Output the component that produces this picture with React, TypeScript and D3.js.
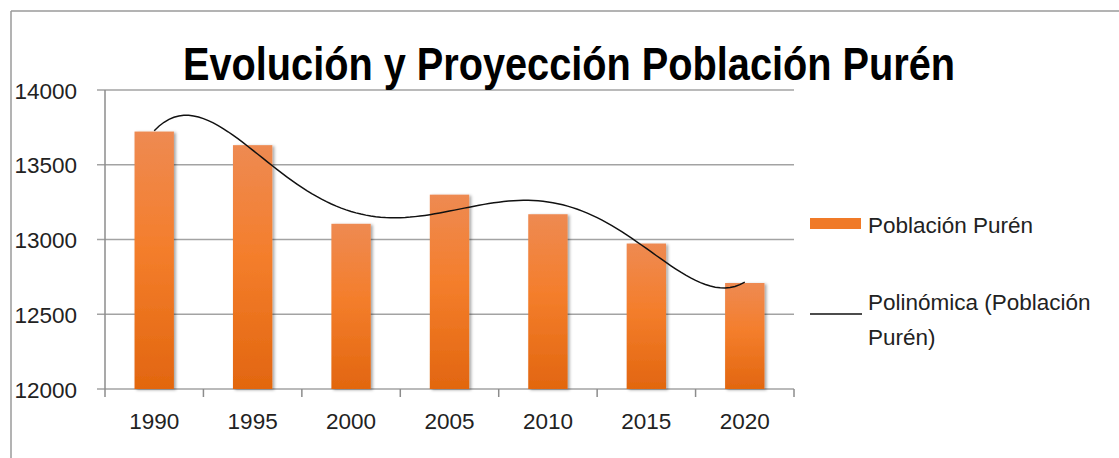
import React, { useMemo } from "react";
import * as d3 from "d3";

const categories = ["1990", "1995", "2000", "2005", "2010", "2015", "2020"];
const population = [13722, 13631, 13105, 13300, 13169, 12973, 12709];
const yTicks = [12000, 12500, 13000, 13500, 14000];
const seriesName = "Población Purén";
const trendName = ["Polinómica (Población", "Purén)"];
const title = "Evolución y Proyección Población Purén";

// least squares polynomial fit (degree 5), like a spreadsheet trendline
function polyFit(xs: number[], ys: number[], deg: number): number[] {
  const n = deg + 1;
  const A: number[][] = Array.from({ length: n }, () => new Array(n + 1).fill(0));
  for (let i = 0; i < xs.length; i++) {
    for (let r = 0; r < n; r++) {
      for (let c = 0; c < n; c++) A[r][c] += Math.pow(xs[i], r + c);
      A[r][n] += ys[i] * Math.pow(xs[i], r);
    }
  }
  for (let p = 0; p < n; p++) {
    let m = p;
    for (let r = p + 1; r < n; r++) if (Math.abs(A[r][p]) > Math.abs(A[m][p])) m = r;
    [A[p], A[m]] = [A[m], A[p]];
    for (let r = 0; r < n; r++) {
      if (r === p) continue;
      const f = A[r][p] / A[p][p];
      for (let c = p; c <= n; c++) A[r][c] -= f * A[p][c];
    }
  }
  return A.map((row, i) => row[n] / row[i]);
}

export default function App() {
  const W = 1119, H = 458;
  const left = 105, right = 794, top = 90, bottom = 389;

  const x = d3.scaleBand().domain(categories).range([left, right]).paddingInner(0.6).paddingOuter(0.3);
  const xc = d3.scalePoint().domain(categories).range([left, right]).padding(0.5);
  const y = d3.scaleLinear().domain([12000, 14000]).range([bottom, top]);

  const trendPath = useMemo(() => {
    const xs = population.map((_, i) => i + 1);
    const coef = polyFit(xs, population, 5);
    const f = (t: number) => coef.reduce((s, c, k) => s + c * Math.pow(t, k), 0);
    const step = xc.step();
    const x0 = xc(categories[0])!;
    const pts: [number, number][] = [];
    for (let t = 1; t <= 7.0001; t += 0.05) pts.push([x0 + (t - 1) * step, y(f(t))]);
    return d3.line().curve(d3.curveLinear)(pts) || "";
  }, []);

  const font = "'Liberation Sans', Arial, sans-serif";
  const boundaries = d3.range(categories.length + 1).map((i) => left + i * xc.step());

  return (
    <svg width={W} height={H} style={{ position: "absolute", left: 0, top: 0 }} fontFamily={font}>
      <defs>
        <linearGradient id="barGrad" x1="0" y1="0" x2="0" y2="1">
          <stop offset="0%" stopColor="#EE8A52" />
          <stop offset="45%" stopColor="#F47E2C" />
          <stop offset="100%" stopColor="#E2660F" />
        </linearGradient>
        <filter id="shadow" x="-20%" y="-5%" width="150%" height="115%">
          <feDropShadow dx="2" dy="1" stdDeviation="1.6" floodColor="#000" floodOpacity="0.35" />
        </filter>
      </defs>
      <rect x={0} y={0} width={W} height={H} fill="#fff" />
      {/* outer border */}
      <line x1={11} y1={11} x2={W} y2={11} stroke="#9a9a9a" strokeWidth={1.5} />
      <line x1={11} y1={11} x2={11} y2={H} stroke="#9a9a9a" strokeWidth={1.5} />

      {/* gridlines */}
      {yTicks.map((t) => (
        <line key={t} x1={left - 8} x2={right} y1={y(t)} y2={y(t)} stroke="#a3a3a3" strokeWidth={1.5} />
      ))}
      {/* y axis */}
      <line x1={left} x2={left} y1={top} y2={bottom} stroke="#8c8c8c" strokeWidth={1.5} />
      {/* x axis ticks */}
      {boundaries.map((b, i) => (
        <line key={i} x1={b} x2={b} y1={bottom} y2={bottom + 8} stroke="#8c8c8c" strokeWidth={1.5} />
      ))}

      {/* bars */}
      {categories.map((c, i) => (
        <rect
          key={c}
          x={x(c)!}
          y={y(population[i])}
          width={x.bandwidth()}
          height={bottom - y(population[i])}
          fill="url(#barGrad)"
          filter="url(#shadow)"
        />
      ))}

      {/* trendline */}
      <path d={trendPath} fill="none" stroke="#111" strokeWidth={1.5} />

      {/* y labels */}
      {yTicks.map((t) => (
        <text key={t} x={77} y={y(t) + 8.5} textAnchor="end" fontSize={22.5} fill="#222">
          {t}
        </text>
      ))}
      {/* x labels */}
      {categories.map((c) => (
        <text key={c} x={xc(c)!} y={429} textAnchor="middle" fontSize={22.5} fill="#222">
          {c}
        </text>
      ))}

      {/* title */}
      <text x={183} y={80} fontSize={46} fontWeight="bold" fill="#000" textLength={772} lengthAdjust="spacingAndGlyphs">
        {title}
      </text>

      {/* legend */}
      <rect x={810} y={218} width={51} height={11} fill="#F07A28" />
      <text x={868} y={233} fontSize={22.5} fill="#222">{seriesName}</text>
      <line x1={810} x2={862} y1={314} y2={314} stroke="#111" strokeWidth={1.5} />
      <text x={868} y={310} fontSize={22.5} fill="#222">{trendName[0]}</text>
      <text x={868} y={345} fontSize={22.5} fill="#222">{trendName[1]}</text>
    </svg>
  );
}
